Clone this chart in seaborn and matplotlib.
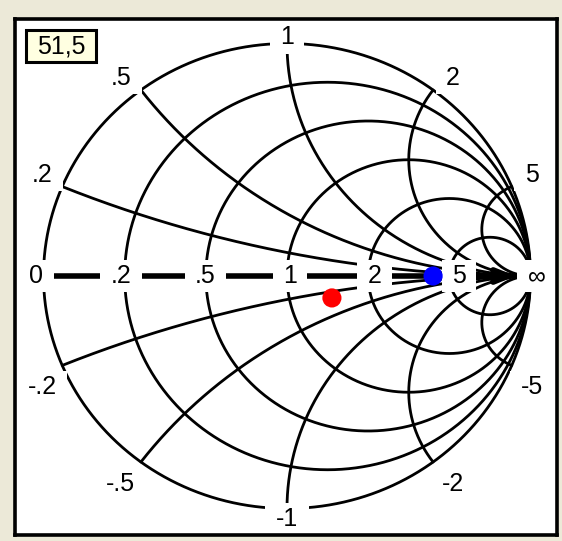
import numpy as np
import pandas as pd
import matplotlib
matplotlib.use("Agg")
import matplotlib.pyplot as plt
import seaborn as sns
from matplotlib.path import Path

# ---------------- data ----------------
resistance_values = [0, 0.2, 0.5, 1, 2, 5]
reactance_values = [0.2, 0.5, 1, 2, 5, -0.2, -0.5, -1, -2, -5]
axis_labels = ["0", ".2", ".5", "1", "2", "5", "\u221e"]
axis_label_r = [0, 0.2, 0.5, 1, 2, 5, np.inf]
rim_labels = [".2", ".5", "1", "2", "5", "-.2", "-.5", "-1", "-2", "-5"]
rim_label_x = [0.2, 0.5, 1, 2, 5, -0.2, -0.5, -1, -2, -5]
point_names = ["red", "blue"]
point_impedance = [1.42 - 0.28j, 4.0 + 0.0j]
point_colors = ["#ff0000", "#0000ff"]
readout_text = "51,5"

# ---------------- style ----------------
sns.set_style("white")
plt.rcParams["font.family"] = ["Liberation Sans", "DejaVu Sans"]
plt.rcParams["text.color"] = "black"
FS = 18
BG = "#ECE9D8"


def gamma(z):
    return (z - 1) / (z + 1)


def label_box(x0, y0, width, height, mutation_size):
    px = 0.42 * mutation_size
    py = 0.16 * mutation_size
    xa, ya = x0 - px, y0 - py
    xb, yb = x0 + width + px, y0 + height + py
    return Path([(xa, ya), (xb, ya), (xb, yb), (xa, yb), (xa, ya)], closed=True)


# grid curves
rows = []
t = np.linspace(0, 2 * np.pi, 1441)
for r in resistance_values:
    c, rad = r / (1 + r), 1 / (1 + r)
    gx, gy = c + rad * np.cos(t), rad * np.sin(t)
    rows.append(pd.DataFrame({"gx": gx, "gy": gy, "curve": f"r{r}"}))
rr = np.concatenate([[0.0], np.logspace(-3, 6, 1200)])
for xv in reactance_values:
    g = gamma(rr + 1j * xv)
    rows.append(pd.DataFrame({"gx": np.append(g.real, 1.0),
                              "gy": np.append(g.imag, 0.0),
                              "curve": f"x{xv}"}))
grid = pd.concat(rows, ignore_index=True)

pg = gamma(np.array(point_impedance))
pts = pd.DataFrame({"gx": pg.real, "gy": pg.imag, "name": point_names})

# ---------------- figure ----------------
W, H = 562, 541
fig = plt.figure(figsize=(W / 100, H / 100), dpi=100, facecolor=BG)
left, right, top, bottom = 15, 556.5, 18.5, 534.5
ax = fig.add_axes([left / W, 1 - bottom / H, (right - left) / W, (bottom - top) / H])
ax.set_facecolor("white")

sns.lineplot(data=grid, x="gx", y="gy", units="curve", estimator=None, sort=False,
             color="black", linewidth=2.0, ax=ax, legend=False, zorder=1)

# real axis with arrow
ax.annotate("", xy=(0.94, 0), xytext=(gamma(0), 0),
            arrowprops=dict(arrowstyle="-|>,head_length=0.55,head_width=0.22",
                            lw=4, color="black", shrinkA=0, shrinkB=0,
                            mutation_scale=20),
            zorder=2)

box = dict(boxstyle=label_box, fc="white", ec="none")

# resistance labels along the axis
for lab, r in zip(axis_labels, axis_label_r):
    g = 1.0 if np.isinf(r) else gamma(r)
    dx = 6 if np.isinf(r) else 10 * g + 3
    ax.annotate(lab, xy=(g, 0), xytext=(dx, 0), textcoords="offset pixels",
                ha="center", va="center", fontsize=FS, color="black",
                bbox=box, zorder=2.4)

# reactance labels around the rim
for lab, xv in zip(rim_labels, rim_label_x):
    g = gamma(1j * xv)
    c, s = g.real, g.imag
    if abs(c) > 0.05:
        dx = 20 * np.sign(c)
        dy = 12 if s > 0 else -22
    else:
        dx = 0
        dy = 6 if s > 0 else -10
    ax.annotate(lab, xy=(c, s), xytext=(dx, dy), textcoords="offset pixels",
                ha="center", va="center", fontsize=FS, color="black",
                bbox=box, zorder=2.4)

sns.scatterplot(data=pts, x="gx", y="gy", hue="name",
                palette=dict(zip(point_names, point_colors)),
                s=190, edgecolor="none", legend=False, ax=ax, zorder=3)

# readout box
ax.text(0.085, 0.946, readout_text, transform=ax.transAxes, ha="center", va="center",
        fontsize=FS, color="black", zorder=4,
        bbox=dict(boxstyle=label_box, fc="#FFFFE1", ec="black", lw=2.2))

px_per_g_x, px_per_g_y = 243.5, 232.5
cx, cy = 287, 276
ax.set_xlim((left - cx) / px_per_g_x, (right - cx) / px_per_g_x)
ax.set_ylim((cy - bottom) / px_per_g_y, (cy - top) / px_per_g_y)
ax.set_aspect("auto")
ax.set_xticks([])
ax.set_yticks([])
ax.set_xlabel("")
ax.set_ylabel("")
for sp in ax.spines.values():
    sp.set_visible(True)
    sp.set_linewidth(2.6)
    sp.set_color("black")

fig.savefig("out.png", dpi=100, facecolor=BG)
